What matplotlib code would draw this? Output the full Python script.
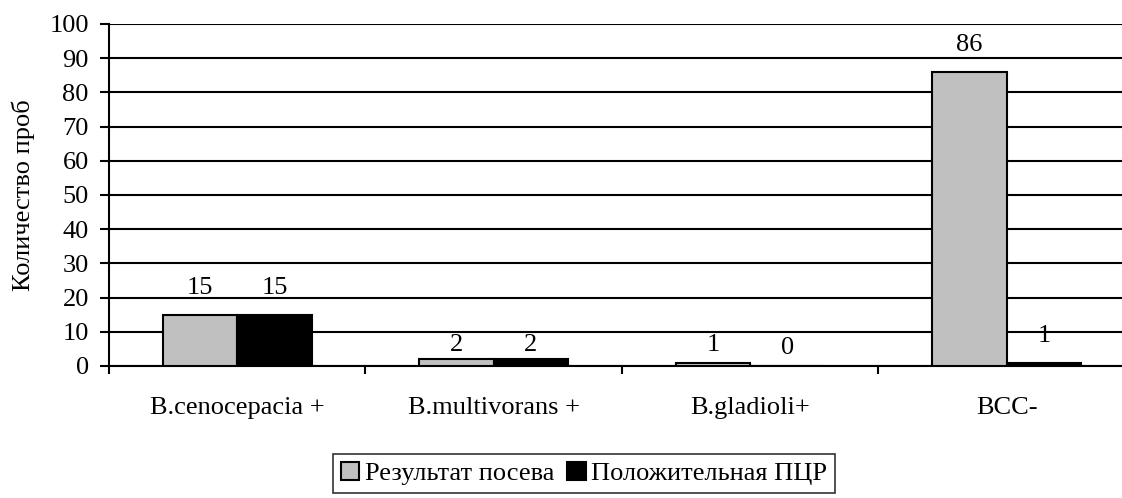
import matplotlib.pyplot as plt
import numpy as np

categories = ['B.cenocepacia +', 'B.multivorans +', 'B.gladioli+', 'BCC-']
culture = [15, 2, 1, 86]
pcr = [15, 2, 0, 1]
series_names = ['Результат посева', 'Положительная ПЦР']

# how far each value label sits above its bar, in points (culture, pcr)
label_lift = [(11.5, 11.5), (2, 2), (4.5, 5), (11.5, 11.5)]

plt.rcParams['font.family'] = ['Liberation Serif', 'DejaVu Serif']
plt.rcParams['font.size'] = 19

fig = plt.figure(figsize=(11.22, 4.98), dpi=100)
# axes runs a little past the right edge, as in the original
ax = fig.add_axes([109 / 1122, 132 / 498, 1026 / 1122, 342 / 498])

x = np.arange(len(categories))
w = 0.29
b1 = ax.bar(x - w / 2, culture, w, color='#c0c0c0', edgecolor='black', linewidth=1.5,
            label=series_names[0], zorder=3)
b2 = ax.bar(x + w / 2, pcr, w, color='black', edgecolor='black', linewidth=1.5,
            label=series_names[1], zorder=3)

for j, bars in enumerate((b1, b2)):
    for i, r in enumerate(bars):
        ax.annotate(str(int(r.get_height())), (r.get_x() + r.get_width() / 2, r.get_height()),
                    xytext=(0, label_lift[i][j]), textcoords='offset points',
                    ha='center', va='bottom')

ax.set_xlim(-0.5, len(categories) - 0.5)
ax.set_ylim(0, 100)
ax.set_yticks(range(0, 101, 10))
ax.set_xticks(np.arange(len(categories) + 1) - 0.5, minor=False)
ax.set_xticklabels([''] * (len(categories) + 1))
ax.set_xticks(x, minor=True)
ax.set_xticklabels(categories, minor=True)
ax.tick_params(axis='x', which='minor', length=0, pad=22)
ax.tick_params(axis='x', which='major', length=6, width=1.5)
ax.tick_params(axis='y', length=6.5, width=1.5, pad=8)

ax.grid(axis='y', color='black', linewidth=1.5, zorder=0)
ax.set_axisbelow(True)
for s in ['top', 'right']:
    ax.spines[s].set_visible(False)
ax.spines['left'].set_linewidth(1.5)
ax.spines['bottom'].set_linewidth(1.5)
ax.set_ylabel('Количество проб', labelpad=10)

fig.legend(loc='lower left', bbox_to_anchor=(333 / 1122, 5 / 498), ncol=2, frameon=True,
           fancybox=False, edgecolor='black', handlelength=0.7, handleheight=0.7,
           handletextpad=0.2, columnspacing=0.5, borderpad=0.3, borderaxespad=0)
fig.legends[0].get_frame().set_linewidth(1.2)

plt.savefig('out.png', dpi=100)
plt.close()
